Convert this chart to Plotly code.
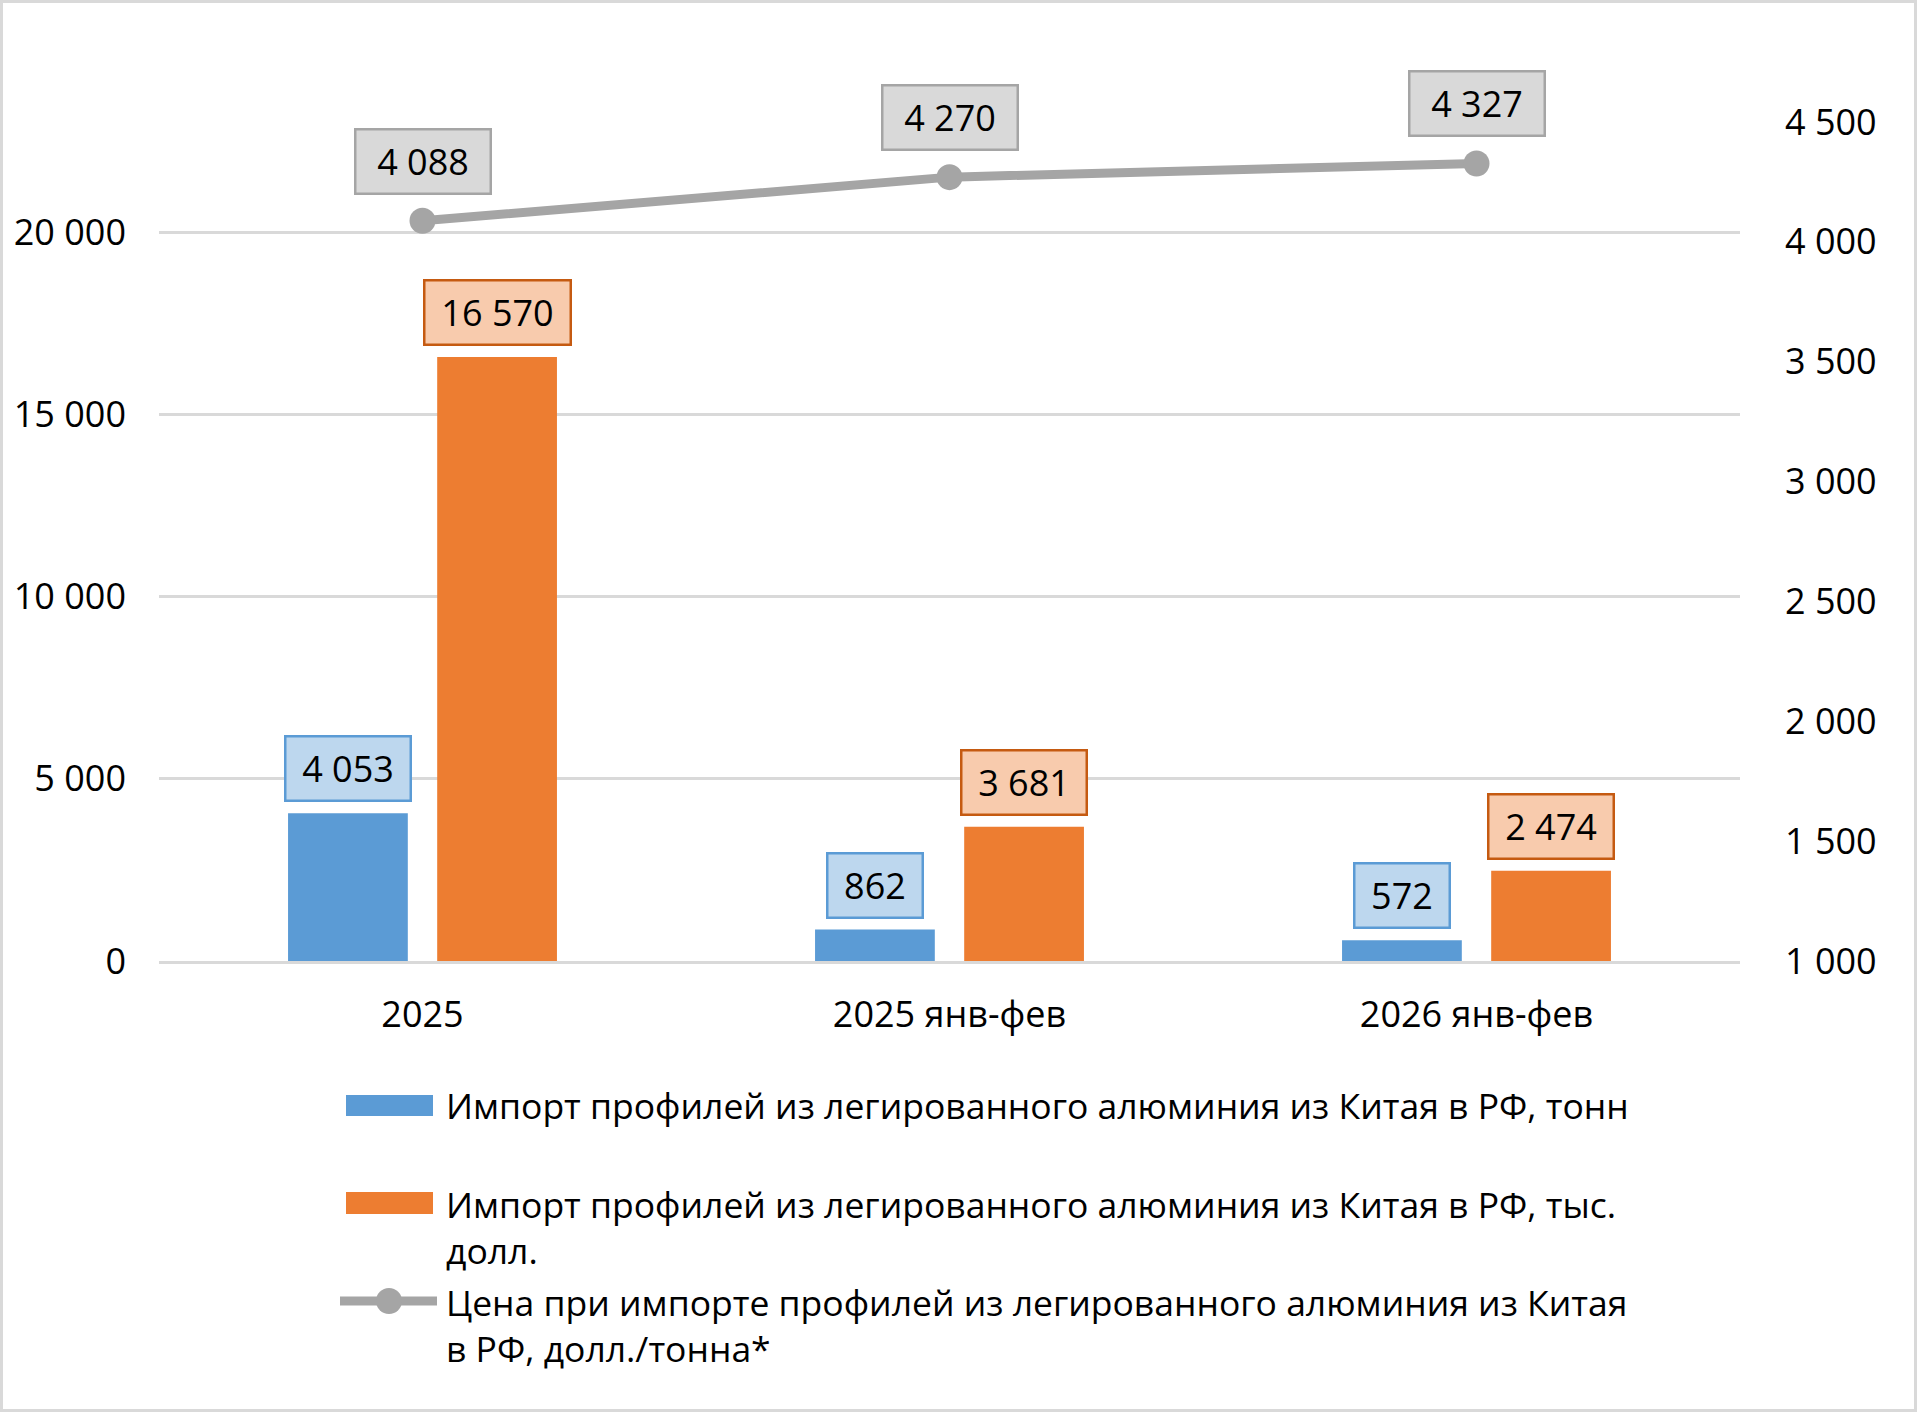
import plotly.graph_objects as go

# chart data
categories = ["2025", "2025 янв-фев", "2026 янв-фев"]
import_tonnes = [4053, 862, 572]
import_usd = [16570, 3681, 2474]
price_usd_t = [4088, 4270, 4327]
series_names = [
    "Импорт профилей из легированного алюминия из Китая в РФ, тонн",
    "Импорт профилей из легированного алюминия из Китая в РФ, тыс.<br>долл.",
    "Цена при импорте профилей из легированного алюминия из Китая<br>в РФ, долл./тонна*",
]
left_ticks = [0, 5000, 10000, 15000, 20000]
right_ticks = [1000, 1500, 2000, 2500, 3000, 3500, 4000, 4500]

BLUE, ORANGE, GRAY = "#5b9bd5", "#ed7d31", "#a5a5a5"
FONT = "Open Sans"
FS = 36

W, H = 1917, 1412
L, R, T, B = 159, 177, 122, 451
PW, PH = W - L - R, H - T - B


def px2x(px):
    return (px - L) / PW


def px2y(py):
    return (H - B - py) / PH


def fmt(v):
    return f"{v:,}".replace(",", " ")


def box_width(s):
    digits = sum(c.isdigit() for c in s)
    spaces = s.count(" ")
    return int(0.572 * FS * digits + 0.26 * FS * spaces + 32)


fig = go.Figure()
fig.add_trace(go.Bar(x=categories, y=import_tonnes, name=series_names[0],
                     marker=dict(color=BLUE, line_width=0)))
fig.add_trace(go.Bar(x=categories, y=import_usd, name=series_names[1],
                     marker=dict(color=ORANGE, line_width=0)))
fig.add_trace(go.Scatter(x=categories, y=price_usd_t, name=series_names[2], yaxis="y2",
                         mode="lines+markers", cliponaxis=False,
                         line=dict(color=GRAY, width=9),
                         marker=dict(color=GRAY, size=26)))

# data labels
off = 0.1415
for i, v in enumerate(import_tonnes):
    fig.add_annotation(x=i - off, y=v, xref="x", yref="y", text=fmt(v), showarrow=False,
                       yanchor="bottom", yshift=11, bgcolor="#bdd7ee", bordercolor=BLUE,
                       borderwidth=2.5, borderpad=0, width=box_width(fmt(v)), height=62,
                       font=dict(family=FONT, size=FS, color="black"))
for i, v in enumerate(import_usd):
    fig.add_annotation(x=i + off, y=v, xref="x", yref="y", text=fmt(v), showarrow=False,
                       yanchor="bottom", yshift=11, bgcolor="#f8cbad", bordercolor="#c55a11",
                       borderwidth=2.5, borderpad=0, width=box_width(fmt(v)), height=62,
                       font=dict(family=FONT, size=FS, color="black"))
for i, v in enumerate(price_usd_t):
    fig.add_annotation(x=i, y=v, xref="x", yref="y2", text=fmt(v), showarrow=False,
                       yanchor="bottom", yshift=26, bgcolor="#d9d9d9", bordercolor=GRAY,
                       borderwidth=2.5, borderpad=0, width=box_width(fmt(v)) + 10, height=62,
                       font=dict(family=FONT, size=FS, color="black"))

# custom legend
fig.add_shape(type="rect", xref="paper", yref="paper", x0=px2x(346), x1=px2x(433),
              y0=px2y(1116), y1=px2y(1095), fillcolor=BLUE, line_width=0)
fig.add_shape(type="rect", xref="paper", yref="paper", x0=px2x(346), x1=px2x(433),
              y0=px2y(1214), y1=px2y(1192), fillcolor=ORANGE, line_width=0)
fig.add_shape(type="line", xref="paper", yref="paper", x0=px2x(340), x1=px2x(437),
              y0=px2y(1301), y1=px2y(1301), line=dict(color=GRAY, width=9))
fig.add_shape(type="circle", xref="paper", yref="paper", xsizemode="pixel", ysizemode="pixel",
              xanchor=px2x(389), yanchor=px2y(1301), x0=-13, x1=13, y0=-13, y1=13,
              fillcolor=GRAY, line_width=0)
for name, cy in zip(series_names, [1105, 1227, 1325]):
    fig.add_annotation(x=px2x(444), y=px2y(cy), xref="paper", yref="paper", text=name,
                       showarrow=False, xanchor="left", yanchor="middle", align="left",
                       font=dict(family=FONT, size=35.5, color="black"))

# outer frame
fig.add_shape(type="rect", xref="paper", yref="paper", x0=px2x(1.5), x1=px2x(W - 1.5),
              y0=px2y(H - 1.5), y1=px2y(1.5), line=dict(color="#d9d9d9", width=3), layer="below")

fig.update_layout(
    width=W, height=H,
    margin=dict(l=L, r=R, t=T, b=B),
    paper_bgcolor="white", plot_bgcolor="white",
    barmode="group", bargap=0.434, bargroupgap=0.197,
    showlegend=False,
    font=dict(family=FONT, size=FS, color="black"),
    xaxis=dict(type="category", range=[-0.5, 2.5], showgrid=False, showline=True,
               linecolor="#d9d9d9", linewidth=2.5, ticks="", ticklabelstandoff=20),
    yaxis=dict(range=[0, 23020], tickvals=left_ticks, ticktext=[fmt(v) for v in left_ticks],
               showgrid=True, gridcolor="#d9d9d9", gridwidth=2.5, zeroline=False,
               ticks="", ticklabelstandoff=32),
    yaxis2=dict(range=[1000, 4500], overlaying="y", side="right", tickvals=right_ticks,
                ticktext=[fmt(v) for v in right_ticks], showgrid=False, zeroline=False,
                ticks="", ticklabelstandoff=44),
)

fig.write_html("out.html", config={"displayModeBar": False},
               post_script="document.body.style.margin='0';")
